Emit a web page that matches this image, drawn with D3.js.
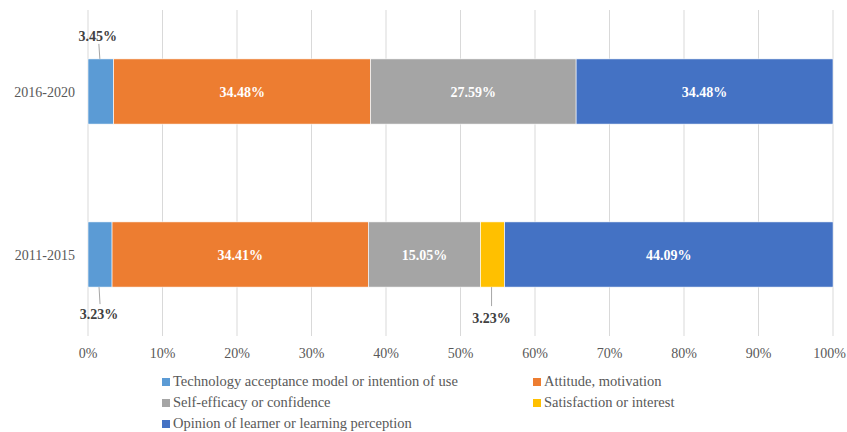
<!DOCTYPE html>
<html>
<head>
<meta charset="utf-8">
<script src="https://cdn.jsdelivr.net/npm/d3@7"></script>
<style>
  body { margin: 0; background: #fff; }
  svg { display: block; }
</style>
</head>
<body>
<svg id="chart" width="847" height="432" font-family="'Liberation Serif', 'Times New Roman', Tinos, 'DejaVu Serif', serif"></svg>
<script>
// Periods (top to bottom) and share of studies per theme, in percent
const periods = ["2016-2020", "2011-2015"];
const themes = [
  "Technology acceptance model or intention of use",
  "Attitude, motivation",
  "Self-efficacy or confidence",
  "Satisfaction or interest",
  "Opinion of learner or learning perception"
];
const techAcceptance = [3.45, 3.23];
const attitude = [34.48, 34.41];
const selfEfficacy = [27.59, 15.05];
const satisfaction = [0, 3.23];
const opinion = [34.48, 44.09];
const colors = ["#5B9BD5", "#ED7D31", "#A5A5A5", "#FFC000", "#4472C4"];
const xTicks = [0, 10, 20, 30, 40, 50, 60, 70, 80, 90, 100];

const seriesValues = [techAcceptance, attitude, selfEfficacy, satisfaction, opinion];
const rows = periods.map((p, i) => {
  const r = { period: p };
  themes.forEach((t, k) => { r[t] = seriesValues[k][i]; });
  return r;
});
const stacked = d3.stack().keys(themes)(rows);

const svg = d3.select("#chart");
const margin = { left: 88, right: 14, top: 10, bottom: 96 };
const W = 847, H = 432;

const x = d3.scaleLinear().domain([0, 100]).range([margin.left, W - margin.right]);
const y = d3.scaleBand().domain(periods).range([margin.top, H - margin.bottom]).paddingInner(0.6).paddingOuter(0.3);

// vertical gridlines
svg.append("g").selectAll("line").data(xTicks).join("line")
  .attr("x1", d => x(d)).attr("x2", d => x(d))
  .attr("y1", margin.top).attr("y2", H - margin.bottom)
  .attr("stroke", "#D9D9D9").attr("stroke-width", 1);

// bars
const groups = svg.append("g").selectAll("g").data(stacked).join("g")
  .attr("fill", (d, i) => colors[i]);
groups.selectAll("rect").data(d => d.map(v => ({ v, key: d.key }))).join("rect")
  .attr("x", d => x(d.v[0]))
  .attr("width", d => Math.max(0, x(d.v[1]) - x(d.v[0])))
  .attr("y", d => y(d.v.data.period))
  .attr("height", y.bandwidth())
  .attr("stroke", "#fff").attr("stroke-width", 0.6);

// labels inside wide segments
const inside = [];
stacked.forEach((s, k) => s.forEach(v => {
  const val = v.data[s.key];
  if (val >= 10) inside.push({ val, mid: (v[0] + v[1]) / 2, period: v.data.period });
}));
svg.append("g").selectAll("text").data(inside).join("text")
  .attr("x", d => x(d.mid))
  .attr("y", d => y(d.period) + y.bandwidth() / 2 + 5)
  .attr("text-anchor", "middle")
  .attr("fill", "#fff").attr("font-weight", "bold").attr("font-size", 14)
  .text(d => d.val.toFixed(2) + "%");

// labels outside narrow segments, with leader lines
const outside = [
  { k: 0, p: 0, dir: -1 },
  { k: 0, p: 1, dir: 1 },
  { k: 3, p: 1, dir: 1 }
].map(o => {
  const v = stacked[o.k][o.p];
  return { ...o, val: v.data[themes[o.k]], mid: (v[0] + v[1]) / 2, period: periods[o.p] };
});
const og = svg.append("g");
outside.forEach(o => {
  const bx = x(o.mid) - 1;
  const top = y(o.period), bot = top + y.bandwidth();
  if (o.dir < 0) {
    og.append("line").attr("x1", bx - 1).attr("y1", top - 15).attr("x2", bx).attr("y2", top)
      .attr("stroke", "#A6A6A6");
    og.append("text").attr("x", bx - 2).attr("y", top - 18).attr("text-anchor", "middle")
      .attr("fill", "#404040").attr("font-weight", "bold").attr("font-size", 14)
      .text(o.val.toFixed(2) + "%");
  } else {
    og.append("line").attr("x1", bx).attr("y1", bot).attr("x2", bx + (o.k === 0 ? 1 : 0)).attr("y2", bot + (o.k === 0 ? 17 : 19))
      .attr("stroke", "#A6A6A6");
    og.append("text").attr("x", bx).attr("y", bot + (o.k === 0 ? 32 : 36)).attr("text-anchor", "middle")
      .attr("fill", "#404040").attr("font-weight", "bold").attr("font-size", 14)
      .text(o.val.toFixed(2) + "%");
  }
});

// category labels
svg.append("g").selectAll("text").data(periods).join("text")
  .attr("x", margin.left - 13)
  .attr("y", d => y(d) + y.bandwidth() / 2 + 5)
  .attr("text-anchor", "end")
  .attr("fill", "#595959").attr("font-size", 14)
  .text(d => d);

// x axis labels (the last one is kept inside the right edge)
svg.append("g").selectAll("text").data(xTicks).join("text")
  .attr("x", d => d === 100 ? W - 1 : x(d))
  .attr("y", H - margin.bottom + 22)
  .attr("text-anchor", d => d === 100 ? "end" : "middle")
  .attr("fill", "#595959").attr("font-size", 14)
  .text(d => d + "%");

// legend
const legendPos = [[162, 386], [533, 386], [162, 407], [533, 407], [162, 428]];
const lg = svg.append("g");
themes.forEach((t, i) => {
  const [lx, ly] = legendPos[i];
  lg.append("rect").attr("x", lx).attr("y", ly - 8).attr("width", 8).attr("height", 8).attr("fill", colors[i]);
  lg.append("text").attr("x", lx + 11).attr("y", ly).attr("fill", "#595959").attr("font-size", 14.5).text(t);
});
</script>
</body>
</html>
